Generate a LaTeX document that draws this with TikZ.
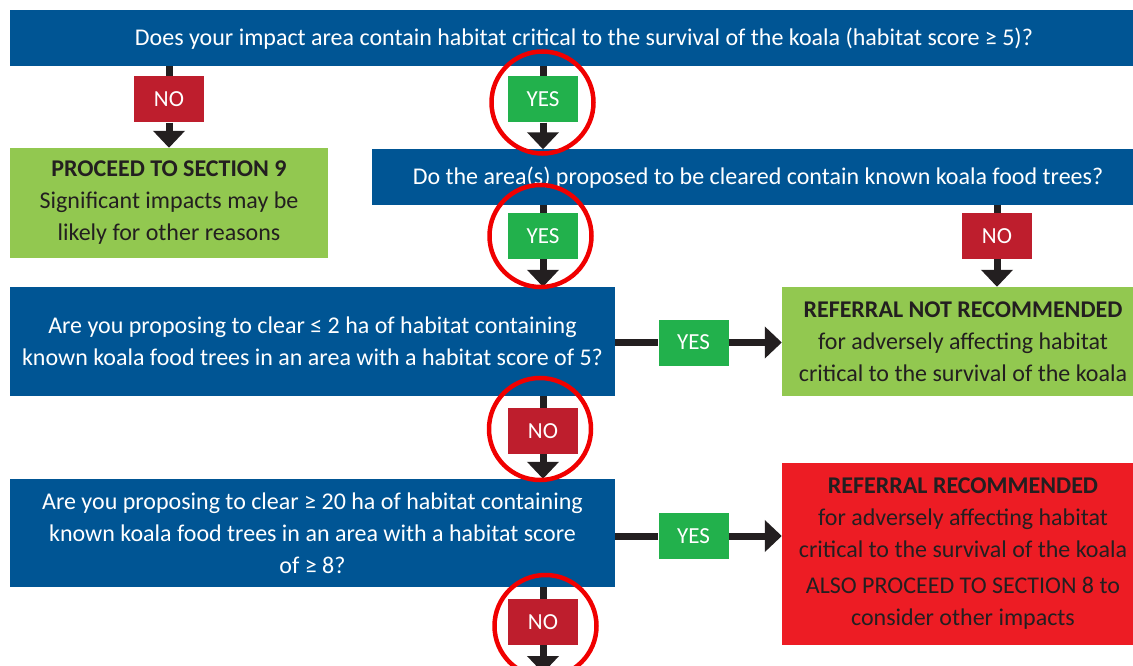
\documentclass[tikz,border=0pt]{standalone}
\usepackage{fontspec}
\setmainfont{Carlito}
\usetikzlibrary{arrows.meta}
\definecolor{qblue}{RGB}{0,85,148}
\definecolor{nored}{RGB}{190,30,45}
\definecolor{yesgreen}{RGB}{34,177,76}
\definecolor{lgreen}{RGB}{146,200,80}
\definecolor{bigred}{RGB}{237,28,36}
\definecolor{ink}{RGB}{35,31,32}
\definecolor{mark}{RGB}{240,0,0}
\begin{document}
\begin{tikzpicture}[x=1pt,y=-1pt,
  qbox/.style={fill=qblue, text=white, inner sep=0pt, align=center,
    font=\fontsize{24}{32}\selectfont},
  rbox/.style={inner sep=0pt, align=center, text=ink,
    font=\fontsize{24}{32}\selectfont},
  nolab/.style={fill=nored, text=white, inner sep=0pt, minimum width=70, minimum height=46,
    font=\fontsize{23}{24}\selectfont},
  yeslab/.style={fill=yesgreen, text=white, inner sep=0pt, minimum width=70, minimum height=46,
    font=\fontsize{23}{24}\selectfont},
  conn/.style={draw=ink, line width=7pt},
  arr/.style={draw=ink, line width=7pt, -{Triangle[width=31pt,length=17pt]}},
  ring/.style={draw=mark, line width=4.5pt}
]
\clip (0,0) rectangle (1133,666);
\fill[white] (0,0) rectangle (1133,666);

% questions
\node[qbox, minimum width=1148, minimum height=56, text depth=2pt] (q1) at (584,38)
  {Does your impact area contain habitat critical to the survival of the koala (habitat score ≥ 5)?};
\node[qbox, minimum width=772, minimum height=55, text depth=2pt] (q2) at (758,177)
  {Do the area(s) proposed to be cleared contain known koala food trees?};
\node[qbox, minimum width=605, minimum height=109] (q3) at (312.5,341.5)
  {Are you proposing to clear ≤ 2 ha of habitat containing\\known koala food trees in an area with a habitat score of 5?};
\node[qbox, minimum width=605, minimum height=108] (q4) at (312.5,533)
  {Are you proposing to clear ≥ 20 ha of habitat containing\\known koala food trees in an area with a habitat score\\of ≥ 8?};

% results
\node[rbox, fill=lgreen, minimum width=318, minimum height=110] (proc9) at (169,203)
  {\textbf{PROCEED TO SECTION 9}\\Significant impacts may be\\likely for other reasons};
\node[rbox, fill=lgreen, minimum width=362, minimum height=109] (notrec) at (963,341.5)
  {\textbf{REFERRAL NOT RECOMMENDED}\\for adversely affecting habitat\\critical to the survival of the koala};
\node[rbox, fill=bigred, minimum width=362, minimum height=182] (rec) at (963,554)
  {\textbf{REFERRAL RECOMMENDED}\\for adversely affecting habitat\\critical to the survival of the koala\\[4pt]ALSO PROCEED TO SECTION 8 to\\consider other impacts};

% labels
\node[nolab] (no1) at (169,99.5) {NO};
\node[yeslab] (yes1) at (543,99.5) {YES};
\node[yeslab] (yes2) at (543,236) {YES};
\node[nolab] (no2) at (997,236) {NO};
\node[yeslab] (yes3) at (693.5,342.5) {YES};
\node[nolab] (no3) at (543,431) {NO};
\node[yeslab] (yes4) at (693.5,536) {YES};
\node[nolab] (no4) at (543,622) {NO};
\coordinate (bottom) at (543,673);

% connectors
\draw[conn] (no1 |- q1.south) -- (no1.north);
\draw[arr] (no1.south) -- (no1 |- proc9.north);
\draw[conn] (yes1 |- q1.south) -- (yes1.north);
\draw[arr] (yes1.south) -- (yes1 |- q2.north);
\draw[conn] (yes2 |- q2.south) -- (yes2.north);
\draw[arr] (yes2.south) -- (yes2 |- q3.north);
\draw[conn] (no2 |- q2.south) -- (no2.north);
\draw[arr] (no2.south) -- (no2 |- notrec.north);
\draw[conn] (q3.east |- yes3) -- (yes3.west);
\draw[arr] (yes3.east) -- (yes3 -| notrec.west);
\draw[conn] (no3 |- q3.south) -- (no3.north);
\draw[arr] (no3.south) -- (no3 |- q4.north);
\draw[conn] (q4.east |- yes4) -- (yes4.west);
\draw[arr] (yes4.east) -- (yes4 -| rec.west);
\draw[conn] (no4 |- q4.south) -- (no4.north);
\draw[arr] (no4.south) -- (bottom);

% annotation rings
\draw[ring] ([xshift=-0.5pt,yshift=-3pt]yes1.center) circle[radius=51];
\draw[ring] ([xshift=-2.5pt]yes2.center) circle[radius=51];
\draw[ring] ([xshift=-3pt,yshift=2pt]no3.center) circle[radius=51];
\draw[ring] ([xshift=2.5pt,yshift=-4pt]no4.center) circle[radius=51];
\end{tikzpicture}
\end{document}
